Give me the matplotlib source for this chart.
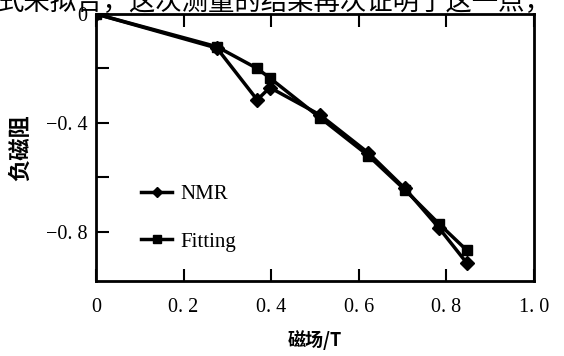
import matplotlib
matplotlib.use("Agg")
import matplotlib.pyplot as plt

# field values (T) and negative magnetoresistance
field = [0, 0.276, 0.368, 0.397, 0.511, 0.622, 0.705, 0.783, 0.847]
nmr = [0, -0.125, -0.315, -0.27, -0.37, -0.51, -0.64, -0.785, -0.915]
fitting = [0, -0.12, -0.20, -0.235, -0.38, -0.52, -0.645, -0.77, -0.868]

xticks = [0, 0.2, 0.4, 0.6, 0.8, 1.0]
xlabels = ['0', '0. 2', '0. 4', '0. 6', '0. 8', '1. 0']
yticks = [0, -0.2, -0.4, -0.6, -0.8]
ylabels = ['0', '', '\u22120. 4', '', '\u22120. 8']

fonts = ['Liberation Serif', 'Noto Sans CJK SC', 'DejaVu Sans']
plt.rcParams['font.family'] = fonts

fig = plt.figure(figsize=(5.64, 3.56), dpi=100)
ax = fig.add_axes([96 / 564, 1 - 281 / 356, 438 / 564, 267 / 356])

ax.plot(field, nmr, color='black', lw=2.5, marker='D', ms=7, label='NMR')
ax.plot(field, fitting, color='black', lw=2.5, marker='s', ms=7, label='Fitting')

ax.set_xlim(0, 1.0)
ax.set_ylim(-0.98, 0)
ax.set_xticks(xticks)
ax.set_xticklabels(xlabels, fontsize=14.5)
ax.set_yticks(yticks)
ax.set_yticklabels(ylabels, fontsize=14.5)
ax.tick_params(axis='x', direction='in', length=9, width=1.5, pad=12, top=True)
ax.tick_params(axis='y', direction='in', length=9, width=1.5, pad=6)
for s in ax.spines.values():
    s.set_linewidth(2)

ax.set_xlabel('磁场/T', fontsize=13, labelpad=10, family=['Noto Sans CJK SC'], weight='bold')
ax.set_ylabel('负磁阻', fontsize=16, labelpad=10, family=['Noto Sans CJK SC'], weight='bold')

ax.legend(loc='lower left', bbox_to_anchor=(0.06, 0.04), frameon=False, fontsize=15,
          handlelength=1.5, handletextpad=0.4, labelspacing=1.35, markerscale=0.75)

fig.text(-0.005, 1 - 16 / 356, '式来拟合，这次测量的结果再次证明了这一点，', fontsize=19,
         family=['Noto Sans CJK SC'], va='bottom', ha='left')

fig.savefig('out.png', dpi=100)
